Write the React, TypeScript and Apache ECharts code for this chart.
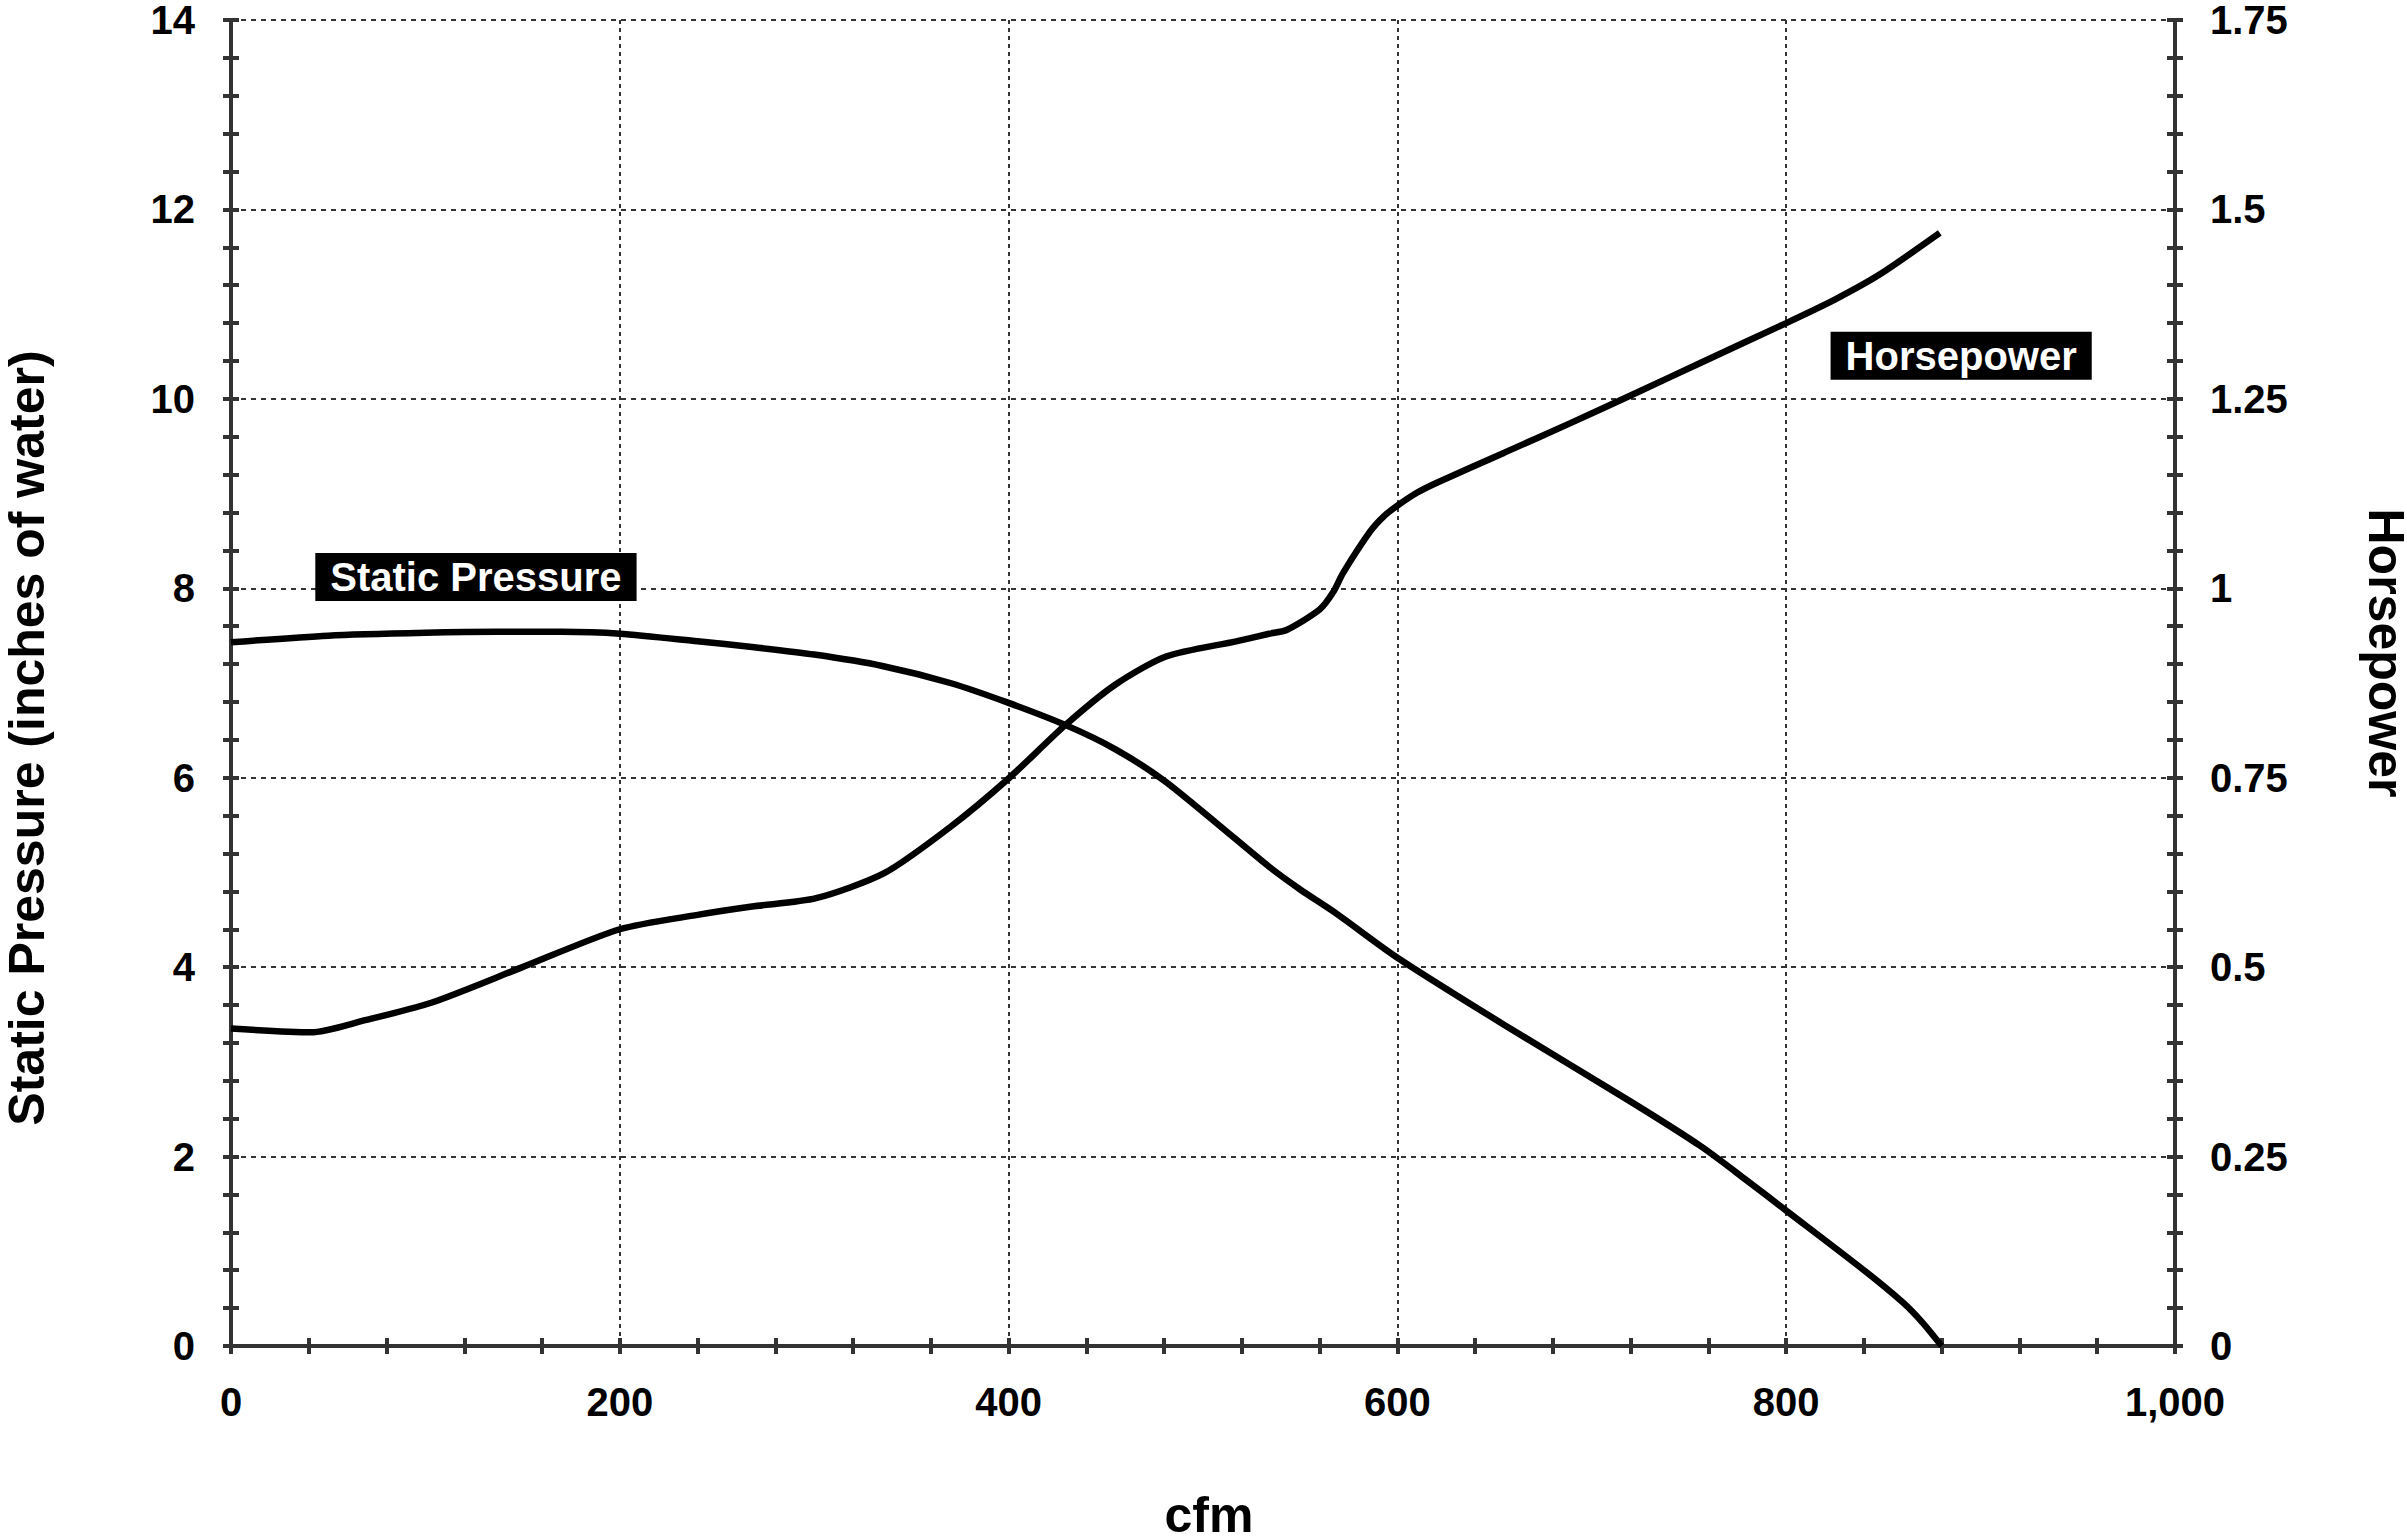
import React, { useEffect, useRef } from "react";
import * as echarts from "echarts";

// Static pressure curve (inches of water) vs cfm
const pressureCfm = [0, 50, 100, 137, 170, 200, 240, 268, 300, 335, 370, 400, 430, 455, 480, 507, 534, 550, 569, 600, 655, 720, 756, 779, 800, 840, 860, 870, 880];
const pressureValues = [7.43, 7.5, 7.53, 7.54, 7.54, 7.52, 7.44, 7.38, 7.3, 7.18, 7.0, 6.79, 6.55, 6.3, 5.97, 5.52, 5.06, 4.82, 4.56, 4.1, 3.39, 2.58, 2.11, 1.76, 1.43, 0.8, 0.46, 0.25, 0];

// Horsepower curve vs cfm
const hpCfm = [0, 41, 69, 103, 149, 200, 240, 268, 301, 336, 370, 400, 429, 455, 481, 517, 534, 543, 560, 567, 572, 586, 593, 600, 610, 620, 655, 689, 723, 758, 800, 825, 848, 879];
const hpValues = [0.419, 0.414, 0.43, 0.453, 0.499, 0.55, 0.569, 0.58, 0.591, 0.624, 0.685, 0.749, 0.819, 0.873, 0.91, 0.93, 0.94, 0.945, 0.972, 0.995, 1.02, 1.075, 1.095, 1.109, 1.126, 1.139, 1.179, 1.218, 1.258, 1.3, 1.35, 1.381, 1.414, 1.469];

// Curve labels (positions in data units, left axis)
const labelTexts = ["Static Pressure", "Horsepower"];
const labelCfm = [126, 890];
const labelPressure = [8.12, 10.455];

const xTitle = "cfm";
const leftTitle = "Static Pressure (inches of water)";
const rightTitle = "Horsepower";

const FONT = '"Liberation Sans", Arial, Helvetica, sans-serif';
const AXIS_COLOR = "#333";

export default function App() {
  const ref = useRef<HTMLDivElement>(null);

  useEffect(() => {
    if (!ref.current) return;
    const chart = echarts.init(ref.current, undefined, { renderer: "svg" });

    const tickLabel = { fontSize: 40, fontWeight: "bold" as const, color: "#000", fontFamily: FONT };
    const tickStyle = { color: AXIS_COLOR, width: 4 };

    const xBase = {
      type: "value" as const,
      min: 0,
      max: 1000,
      interval: 200,
      position: "bottom" as const,
    };
    const yLeftBase = { type: "value" as const, min: 0, max: 14, interval: 2, position: "left" as const };
    const yRightBase = { type: "value" as const, min: 0, max: 1.75, interval: 0.25, position: "right" as const };

    const titleStyle = {
      fontSize: 50,
      fontWeight: "bold",
      fontFamily: FONT,
      fill: "#000",
      align: "center",
      verticalAlign: "middle",
    };

    const option: any = {
      animation: false,
      backgroundColor: "#fff",
      grid: { left: 231, right: 232, top: 11, bottom: 190, containLabel: false },
      xAxis: [
        {
          ...xBase,
          axisLine: { show: true, lineStyle: { color: AXIS_COLOR, width: 4 } },
          axisTick: { show: true, inside: false, length: 8, lineStyle: tickStyle },
          minorTick: { show: true, splitNumber: 5, length: 8, lineStyle: tickStyle },
          axisLabel: {
            ...tickLabel,
            margin: 36,
            formatter: (v: number) => v.toLocaleString("en-US"),
          },
          splitLine: { show: true, lineStyle: { color: AXIS_COLOR, width: 2, type: [4, 4] } },
        },
        {
          ...xBase,
          axisLine: { show: false },
          axisTick: { show: true, inside: true, length: 8, lineStyle: tickStyle },
          minorTick: { show: true, splitNumber: 5, length: 8, lineStyle: tickStyle },
          axisLabel: { show: false },
          splitLine: { show: false },
        },
      ],
      yAxis: [
        {
          ...yLeftBase,
          axisLine: { show: true, lineStyle: { color: AXIS_COLOR, width: 4 } },
          axisTick: { show: true, inside: false, length: 8, lineStyle: tickStyle },
          minorTick: { show: true, splitNumber: 5, length: 8, lineStyle: tickStyle },
          axisLabel: { ...tickLabel, margin: 36 },
          splitLine: { show: true, lineStyle: { color: AXIS_COLOR, width: 2, type: [5, 5] } },
        },
        {
          ...yLeftBase,
          axisLine: { show: false },
          axisTick: { show: true, inside: true, length: 8, lineStyle: tickStyle },
          minorTick: { show: true, splitNumber: 5, length: 8, lineStyle: tickStyle },
          axisLabel: { show: false },
          splitLine: { show: false },
        },
        {
          ...yRightBase,
          axisLine: { show: true, lineStyle: { color: AXIS_COLOR, width: 4 } },
          axisTick: { show: true, inside: false, length: 8, lineStyle: tickStyle },
          minorTick: { show: true, splitNumber: 5, length: 8, lineStyle: tickStyle },
          axisLabel: { ...tickLabel, margin: 35 },
          splitLine: { show: false },
        },
        {
          ...yRightBase,
          axisLine: { show: false },
          axisTick: { show: true, inside: true, length: 8, lineStyle: tickStyle },
          minorTick: { show: true, splitNumber: 5, length: 8, lineStyle: tickStyle },
          axisLabel: { show: false },
          splitLine: { show: false },
        },
      ],
      graphic: [
        {
          type: "text",
          x: 27,
          y: 738,
          rotation: Math.PI / 2,
          style: { ...titleStyle, text: leftTitle },
        },
        {
          type: "text",
          x: 2386,
          y: 653,
          rotation: -Math.PI / 2,
          style: { ...titleStyle, text: rightTitle },
        },
        {
          type: "text",
          x: 1209,
          y: 1515,
          style: { ...titleStyle, text: xTitle },
        },
      ],
      series: [
        {
          name: "Static Pressure",
          type: "line",
          xAxisIndex: 0,
          yAxisIndex: 0,
          data: pressureCfm.map((c, i) => [c, pressureValues[i]]),
          showSymbol: false,
          symbol: "none",
          smooth: 0.25,
          lineStyle: { color: "#000", width: 6.5 },
          z: 5,
        },
        {
          name: "Horsepower",
          type: "line",
          xAxisIndex: 0,
          yAxisIndex: 2,
          data: hpCfm.map((c, i) => [c, hpValues[i]]),
          showSymbol: false,
          symbol: "none",
          smooth: 0.25,
          lineStyle: { color: "#000", width: 6.5 },
          z: 5,
        },
        {
          name: "labels",
          type: "scatter",
          xAxisIndex: 0,
          yAxisIndex: 0,
          symbol: "rect",
          symbolSize: 1,
          itemStyle: { color: "rgba(0,0,0,0)", opacity: 1 },
          data: labelTexts.map((t, i) => ({ name: t, value: [labelCfm[i], labelPressure[i]] })),
          label: {
            show: true,
            position: "inside",
            formatter: (p: any) => p.name,
            color: "#ffffff",
            opacity: 1,
            backgroundColor: "#000000",
            fontSize: 40,
            fontWeight: "bold",
            fontFamily: FONT,
            lineHeight: 40,
            padding: [4, 15],
          },
          emphasis: { disabled: true },
          z: 10,
        },
      ],
    };

    chart.setOption(option);
    return () => chart.dispose();
  }, []);

  return (
    <div
      ref={ref}
      style={{ position: "fixed", left: 0, top: 0, width: 2407, height: 1536, background: "#fff" }}
    />
  );
}
